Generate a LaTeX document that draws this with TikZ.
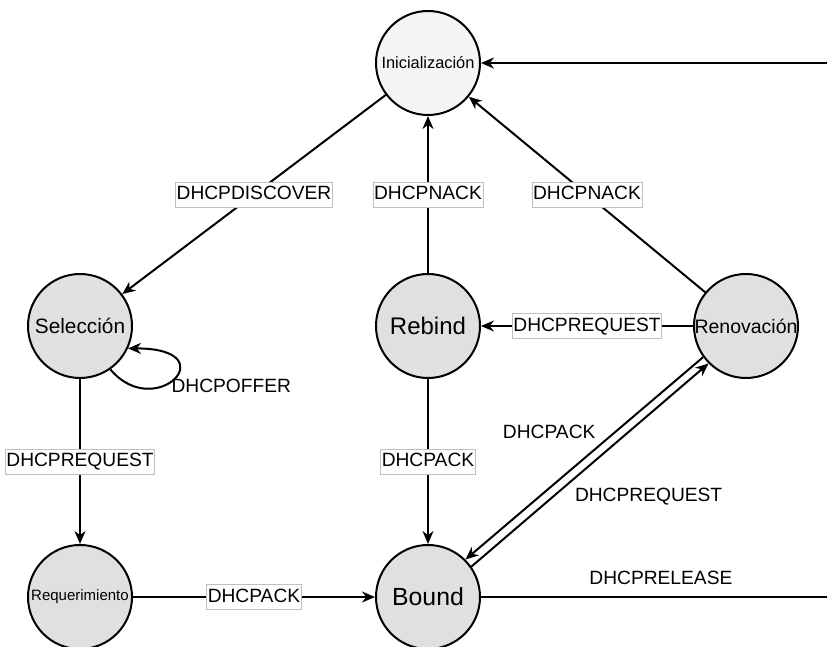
\documentclass[tikz,border=0pt]{standalone}
\usepackage{fontspec}
\setmainfont{Liberation Sans}
\usetikzlibrary{positioning,arrows.meta}

\begin{document}
\begin{tikzpicture}[x=1pt, y=1pt, font=\fontsize{9.6}{11}\selectfont, line width=1pt, >={Stealth[length=6.5pt,width=5.5pt]},
		state/.style={draw, circle, minimum size=52pt, inner sep=0pt, fill=black!12},
		msg/.style={draw=black!25, fill=white, line width=0.4pt, inner xsep=0.6pt, inner ysep=1pt, text height=8pt, text depth=2.5pt},
		note/.style={inner sep=1.5pt},
		on grid]
		\useasboundingbox (0,0) rectangle (413.5,-323.5);
		\node[state, fill=black!4, font=\fontsize{8.2}{10}\selectfont] (init) at (214,-31.5) {Inicialización};
		\node[state, below=131.5pt of init, font=\fontsize{12}{14}\selectfont] (rebind) {Rebind};
		\node[state, below=135.5pt of rebind, font=\fontsize{12.4}{14}\selectfont] (bound) {Bound};
		\node[state, left=174pt of rebind, font=\fontsize{10.4}{12}\selectfont] (sel) {Selección};
		\node[state, right=159pt of rebind, font=\fontsize{9.75}{12}\selectfont] (renov) {Renovación};
		\node[state, below=135.5pt of sel, font=\fontsize{7.5}{9}\selectfont] (req) {Requerimiento};
		\coordinate (rtop) at (413.5,-31.5);
		\coordinate (rbot) at (413.5,-298.5);

		\draw[->] (rtop) -- (init);
		\draw[->] (init) -- node[msg] {DHCPDISCOVER} (sel);
		\draw[->] (rebind) -- node[msg] {DHCPNACK} (init);
		\draw[->] (renov) -- node[msg] {DHCPNACK} (init);
		\draw[->] (renov) -- node[msg] {DHCPREQUEST} (rebind);
		\draw[->] (sel.-55) .. controls +(-50:35pt) and +(0:50pt) .. node[note, pos=0.5, anchor=west, xshift=-3pt, yshift=-3.5pt] {DHCPOFFER} (sel.-25);
		\draw[->] (sel) -- node[msg] {DHCPREQUEST} (req);
		\draw[->] (req) -- node[msg] {DHCPACK} (bound);
		\draw[->] (rebind) -- node[msg] {DHCPACK} (bound);
		\draw[->] (renov.216) -- node[note, pos=0.47, anchor=south east, xshift=4pt, yshift=5pt] {DHCPACK} (bound.45);
		\draw[->] (bound.35) -- node[note, pos=0.42, anchor=north west, yshift=-1.5pt] {DHCPREQUEST} (renov.225);
		\draw (bound) -- node[note, pos=0.52, above=4pt] {DHCPRELEASE} (rbot);
	\end{tikzpicture}
\end{document}
